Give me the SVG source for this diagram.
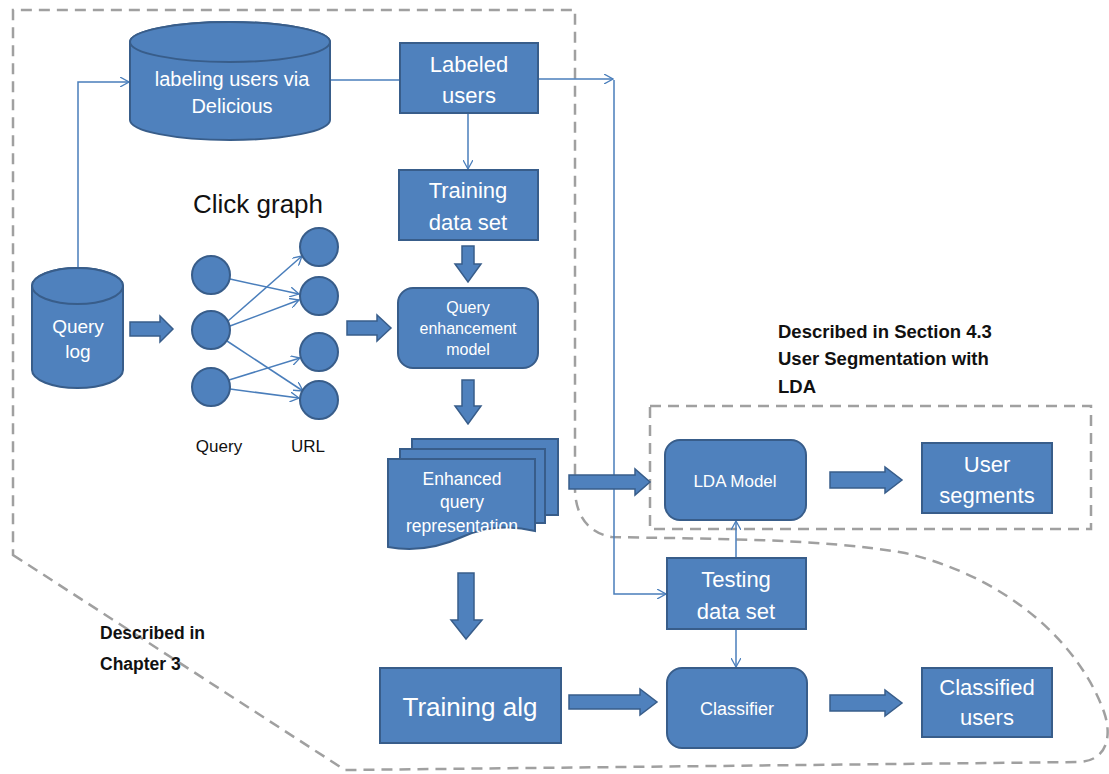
<svg xmlns="http://www.w3.org/2000/svg" width="1109" height="774" viewBox="0 0 1109 774">
  <style>
    .box { fill: #4F81BD; stroke: #385D8A; stroke-width: 2; }
    .barrow { fill: #4F81BD; stroke: #385D8A; stroke-width: 1.5; }
    .wire { fill: none; stroke: #4A7EBB; stroke-width: 1.5; }
    .zone { fill: none; stroke: #A0A0A0; stroke-width: 2.5; stroke-dasharray: 11 7; }
    .lbl { font-family: "Liberation Sans", Arial, sans-serif; fill: #FFFFFF; text-anchor: middle; }
    .note { font-family: "Liberation Sans", Arial, sans-serif; fill: #111111; font-weight: bold; }
    .dark { font-family: "Liberation Sans", Arial, sans-serif; fill: #111111; text-anchor: middle; }
  </style>
  <defs>
    <marker id="open" viewBox="0 0 10 10" refX="9" refY="5" markerWidth="10" markerHeight="10" markerUnits="userSpaceOnUse" orient="auto">
      <path d="M0,0 L9,5 L0,10" fill="none" stroke="#4A7EBB" stroke-width="1.3"/>
    </marker>
  </defs>

  <!-- dashed scope outlines -->
  <g id="scopes">
    <path class="zone" d="M13,555 L345,770 L1080,762 C1108,760 1112,735 1104,712 C1080,645 1010,578 905,553 C820,538 700,539 612,537 C588,533 575,515 575,488 L575,10 L13,10 Z"/>
    <rect class="zone" x="650" y="406" width="441" height="123"/>
  </g>

  <!-- thin connectors -->
  <g id="connectors">
    <path class="wire" d="M78,268 V82 H129" marker-end="url(#open)"/>
    <path class="wire" d="M330,80 H400"/>
    <path class="wire" d="M538,79 H613" marker-end="url(#open)"/>
    <path class="wire" d="M614,80 V594 H666" marker-end="url(#open)"/>
    <path class="wire" d="M468,113 V169" marker-end="url(#open)"/>
    <path class="wire" d="M736,558 V521" marker-end="url(#open)"/>
    <path class="wire" d="M736,629 V667" marker-end="url(#open)"/>
    <!-- click graph edges -->
    <path class="wire" d="M230,279 L299,294" marker-end="url(#open)"/>
    <path class="wire" d="M228,321 L302,256" marker-end="url(#open)"/>
    <path class="wire" d="M230,326 L299,300" marker-end="url(#open)"/>
    <path class="wire" d="M227,341 L303,391" marker-end="url(#open)"/>
    <path class="wire" d="M229,380 L300,358" marker-end="url(#open)"/>
    <path class="wire" d="M230,389 L299,398" marker-end="url(#open)"/>
  </g>

  <!-- block arrows -->
  <g id="block-arrows">
    <polygon class="barrow" points="130,322 160,322 160,316 173,329 160,342 160,336 130,336"/>
    <polygon class="barrow" points="347,321 377,321 377,315 391,328 377,341 377,335 347,335"/>
    <polygon class="barrow" points="462,246 474,246 474,264 481,264 468,282 455,264 462,264"/>
    <polygon class="barrow" points="462,380 474,380 474,406 481,406 468,424 455,406 462,406"/>
    <polygon class="barrow" points="569,475 635,475 635,469 650,482 635,495 635,489 569,489"/>
    <polygon class="barrow" points="830,472 885,472 885,467 902,480 885,493 885,488 830,488"/>
    <polygon class="barrow" points="458,573 474,573 474,620 482,620 466,639 451,620 458,620"/>
    <polygon class="barrow" points="569,695 640,695 640,689 657,702 640,715 640,709 569,709"/>
    <polygon class="barrow" points="830,695 885,695 885,690 902,703 885,716 885,711 830,711"/>
  </g>

  <g id="delicious">
    <path class="box" d="M130,42 V120 A100,20 0 0 0 330,120 V42 A100,20 0 0 0 130,42 Z"/>
    <ellipse class="box" cx="230" cy="42" rx="100" ry="20"/>
    <text class="lbl" x="232" y="86" font-size="20">labeling users via</text>
    <text class="lbl" x="232" y="113" font-size="20">Delicious</text>
  </g>

  <g id="labeled-users">
    <rect class="box" x="400" y="43" width="138" height="70"/>
    <text class="lbl" x="469" y="72" font-size="22">Labeled</text>
    <text class="lbl" x="469" y="103" font-size="22">users</text>
  </g>

  <g id="training-data">
    <rect class="box" x="399" y="170" width="139" height="70"/>
    <text class="lbl" x="468" y="198" font-size="22">Training</text>
    <text class="lbl" x="468" y="230" font-size="22">data set</text>
  </g>

  <g id="query-log">
    <path class="box" d="M32,286 V370 A45.5,18 0 0 0 123,370 V286 A45.5,18 0 0 0 32,286 Z"/>
    <ellipse class="box" cx="77.5" cy="286" rx="45.5" ry="18"/>
    <text class="lbl" x="78" y="333" font-size="19">Query</text>
    <text class="lbl" x="78" y="358" font-size="19">log</text>
  </g>

  <g id="click-graph">
    <text class="dark" x="258" y="213" font-size="26">Click graph</text>
    <circle class="box" cx="211" cy="275" r="19"/>
    <circle class="box" cx="211" cy="330" r="19"/>
    <circle class="box" cx="211" cy="387" r="19"/>
    <circle class="box" cx="319" cy="247" r="19"/>
    <circle class="box" cx="319" cy="296" r="19"/>
    <circle class="box" cx="319" cy="352" r="19"/>
    <circle class="box" cx="319" cy="400" r="19"/>
    <text class="dark" x="219" y="452" font-size="17">Query</text>
    <text class="dark" x="308" y="452" font-size="17">URL</text>
  </g>

  <g id="query-enhancement">
    <rect class="box" x="398" y="288" width="140" height="80" rx="15"/>
    <text class="lbl" x="468" y="313" font-size="16">Query</text>
    <text class="lbl" x="468" y="334" font-size="16">enhancement</text>
    <text class="lbl" x="468" y="355" font-size="16">model</text>
  </g>

  <g id="enhanced-query">
    <rect class="box" x="412" y="439" width="146" height="76"/>
    <rect class="box" x="400" y="449" width="145" height="74"/>
    <path class="box" d="M388,459 H535 V531 C505,524 482,528 462,537 C440,547 415,552 388,547 Z"/>
    <text class="lbl" x="462" y="485" font-size="17.5">Enhanced</text>
    <text class="lbl" x="462" y="508" font-size="17.5">query</text>
    <text class="lbl" x="462" y="532" font-size="17.5">representation</text>
  </g>

  <g id="training-alg">
    <rect class="box" x="380" y="668" width="181" height="75"/>
    <text class="lbl" x="470" y="716" font-size="26">Training alg</text>
  </g>

  <g id="lda-model">
    <rect class="box" x="665" y="440" width="141" height="80" rx="15"/>
    <text class="lbl" x="735" y="487" font-size="17">LDA Model</text>
  </g>

  <g id="user-segments">
    <rect class="box" x="922" y="443" width="130" height="70"/>
    <text class="lbl" x="987" y="472" font-size="22">User</text>
    <text class="lbl" x="987" y="503" font-size="22">segments</text>
  </g>

  <g id="testing-data">
    <rect class="box" x="667" y="558" width="139" height="71"/>
    <text class="lbl" x="736" y="587" font-size="22">Testing</text>
    <text class="lbl" x="736" y="619" font-size="22">data set</text>
  </g>

  <g id="classifier">
    <rect class="box" x="667" y="668" width="140" height="80" rx="15"/>
    <text class="lbl" x="737" y="715" font-size="18">Classifier</text>
  </g>

  <g id="classified-users">
    <rect class="box" x="922" y="668" width="130" height="69"/>
    <text class="lbl" x="987" y="695" font-size="22">Classified</text>
    <text class="lbl" x="987" y="725" font-size="22">users</text>
  </g>

  <g id="notes">
    <text class="note" x="778" y="338" font-size="18.5">Described in Section 4.3</text>
    <text class="note" x="778" y="365" font-size="18.5">User Segmentation with</text>
    <text class="note" x="778" y="393" font-size="18.5">LDA</text>
    <text class="note" x="100" y="639" font-size="17.5">Described in</text>
    <text class="note" x="100" y="670" font-size="17.5">Chapter 3</text>
  </g>
</svg>
